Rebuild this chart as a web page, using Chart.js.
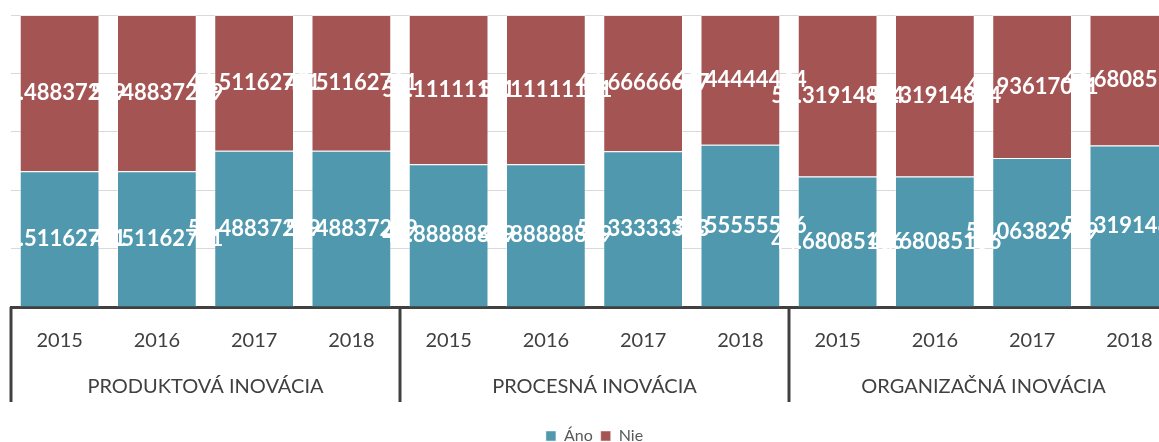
<!DOCTYPE html>
<html>
<head>
<meta charset="utf-8">
<script src="https://cdn.jsdelivr.net/npm/chart.js@4/dist/chart.umd.min.js"></script>
<style>
  html, body { margin: 0; padding: 0; background: #fff; overflow: hidden; }
  #wrap { position: absolute; left: 0; top: 0; width: 1190px; height: 454px; }
</style>
</head>
<body>
<div id="wrap"><canvas id="chart"></canvas></div>
<script>
// years repeat inside each group of innovation type
const years = ["2015", "2016", "2017", "2018",
               "2015", "2016", "2017", "2018",
               "2015", "2016", "2017", "2018"];
const groups = ["PRODUKTOVÁ INOVÁCIA", "PROCESNÁ INOVÁCIA", "ORGANIZAČNÁ INOVÁCIA"];

const ano = [46.51162791, 46.51162791, 53.48837209, 53.48837209,
             48.88888889, 48.88888889, 53.33333333, 55.55555556,
             44.68085106, 44.68085106, 51.06382979, 55.31914894];
const nie = [53.48837209, 53.48837209, 46.51162791, 46.51162791,
             51.11111111, 51.11111111, 46.66666667, 44.44444444,
             55.31914894, 55.31914894, 48.93617021, 44.68085106];

const TEAL = "#4F98AE";
const RED = "#A55454";
const AXIS = "#404040";

// white value labels in the middle of each segment
const barLabels = {
    id: "barLabels",
    afterDatasetsDraw(chart) {
        const ctx = chart.ctx;
        ctx.save();
        ctx.font = "bold 22px Lato";
        ctx.fillStyle = "#fff";
        ctx.textAlign = "center";
        ctx.textBaseline = "middle";
        chart.data.datasets.forEach((ds, di) => {
            chart.getDatasetMeta(di).data.forEach((bar, i) => {
                const p = bar.getProps(["x", "y", "base"], true);
                ctx.fillText(String(ds.data[i]), p.x, (p.y + p.base) / 2);
            });
        });
        ctx.restore();
    }
};

// vertical separators between the groups, under the axis
const groupLines = {
    id: "groupLines",
    afterDraw(chart) {
        const g = chart.scales.x2;
        const ctx = chart.ctx;
        const y0 = chart.scales.x.top;
        const y1 = g.top + 27;
        ctx.save();
        ctx.strokeStyle = AXIS;
        ctx.lineWidth = 3;
        for (let i = 0; i <= groups.length; i++) {
            const px = Math.round(g.getPixelForValue(i - 0.5));
            ctx.beginPath();
            ctx.moveTo(px, y0);
            ctx.lineTo(px, y1);
            ctx.stroke();
        }
        ctx.restore();
    }
};

new Chart(document.getElementById("chart"), {
    type: "bar",
    data: {
        labels: years,
        datasets: [
            { label: "Áno", data: ano, backgroundColor: TEAL, borderColor: "rgba(255,255,255,0.45)", borderWidth: 1,
              categoryPercentage: 1, barPercentage: 0.82 },
            { label: "Nie", data: nie, backgroundColor: RED, borderColor: "rgba(255,255,255,0.45)", borderWidth: 1,
              categoryPercentage: 1, barPercentage: 0.82 }
        ]
    },
    options: {
        responsive: true,
        maintainAspectRatio: false,
        animation: false,
        layout: { padding: { left: 11, right: 12, top: 15, bottom: 0 } },
        plugins: {
            legend: {
                position: "bottom",
                labels: {
                    boxWidth: 10, boxHeight: 10, padding: 8,
                    color: "#595959",
                    font: { family: "Lato", size: 16 }
                }
            },
            tooltip: { enabled: false }
        },
        scales: {
            y: {
                stacked: true,
                min: 0, max: 100,
                ticks: { display: false, stepSize: 20 },
                grid: { color: "#d9d9d9", drawTicks: false },
                border: { display: false }
            },
            x: {
                stacked: true,
                offset: true,
                ticks: { color: AXIS, font: { family: "Lato", size: 20 }, padding: 22, maxRotation: 0, autoSkip: false },
                grid: { display: false, drawTicks: false },
                border: { color: AXIS, width: 3 }
            },
            x2: {
                type: "category",
                labels: groups,
                position: "bottom",
                offset: true,
                ticks: { color: AXIS, font: { family: "Lato", size: 20, lineHeight: 1.2 }, padding: 0, maxRotation: 0, autoSkip: false },
                grid: { display: false, drawTicks: false },
                border: { display: false },
                title: { display: true, text: " ", font: { size: 10, lineHeight: 1 }, padding: { top: 11, bottom: 0 } }
            }
        }
    },
    plugins: [barLabels, groupLines]
});
</script>
</body>
</html>
